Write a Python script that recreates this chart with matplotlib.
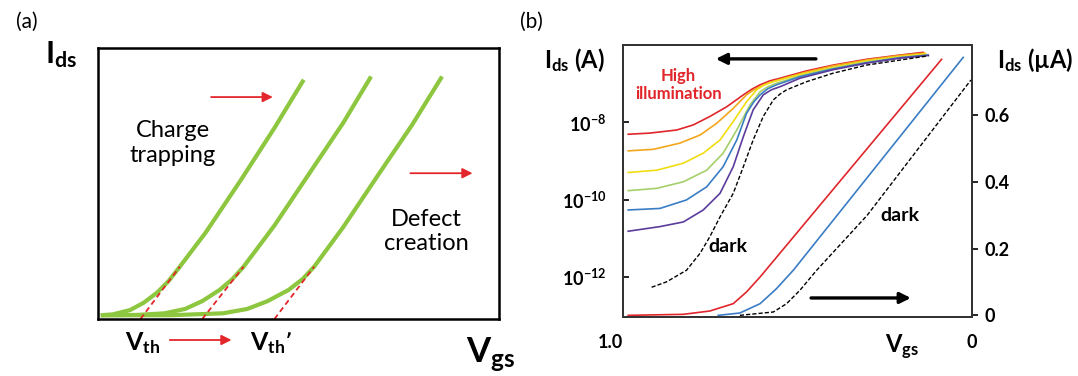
import numpy as np
import matplotlib.pyplot as plt

plt.rcParams['font.family'] = ['Lato', 'DejaVu Sans']
plt.rcParams['mathtext.default'] = 'regular'

GREEN = '#8dc63f'
RED = '#e3262b'

# ---- (a) schematic I-V curves, arbitrary units (0..100 on both axes)
c1_x = [0.7, 3.7, 8.0, 11.4, 14.8, 17.6, 20.4, 26.9, 35.5, 44.0, 51.3]
c1_y = [1.4, 1.7, 3.3, 6.0, 9.8, 14.0, 19.3, 32.0, 51.0, 70.5, 88.3]
c2_x = [0.7, 9.7, 16.6, 21.7, 26.0, 30.3, 33.5, 36.3, 44.0, 52.6, 61.2, 68.1]
c2_y = [1.4, 1.5, 2.1, 3.7, 6.6, 10.7, 14.7, 19.3, 34.5, 53.5, 72.5, 89.5]
c3_x = [0.7, 18.3, 31.2, 37.2, 42.3, 47.5, 51.0, 53.9, 61.2, 69.8, 78.4, 85.8]
c3_y = [1.4, 1.4, 2.1, 3.7, 6.6, 10.7, 14.7, 19.3, 34.0, 53.0, 71.8, 89.5]
tangent_x = [[10.6, 20.4], [26.0, 36.3], [44.0, 53.9]]
tangent_y = [0.0, 19.3]

# ---- (b) transfer curves under illumination, Vgs from 1.0 down to 0
red_v = [0.985, 0.923, 0.846, 0.799, 0.751, 0.703, 0.655, 0.630, 0.607, 0.580, 0.550, 0.474, 0.398, 0.302, 0.206, 0.140]
red_log = [-8.31, -8.28, -8.20, -8.07, -7.85, -7.60, -7.29, -7.14, -7.03, -6.93, -6.86, -6.67, -6.52, -6.37, -6.26, -6.19]
orange_v = [0.985, 0.913, 0.837, 0.779, 0.732, 0.684, 0.646, 0.625, 0.607, 0.580, 0.550, 0.474, 0.398, 0.302, 0.206, 0.135]
orange_log = [-8.74, -8.70, -8.54, -8.33, -8.03, -7.64, -7.29, -7.16, -7.08, -6.97, -6.89, -6.70, -6.54, -6.39, -6.27, -6.21]
yellow_v = [0.985, 0.903, 0.827, 0.770, 0.722, 0.684, 0.646, 0.617, 0.595, 0.569, 0.493, 0.398, 0.302, 0.206, 0.132]
yellow_log = [-9.30, -9.24, -9.06, -8.80, -8.46, -7.98, -7.47, -7.16, -7.03, -6.95, -6.76, -6.58, -6.41, -6.30, -6.23]
green_v = [0.985, 0.903, 0.827, 0.760, 0.713, 0.674, 0.636, 0.607, 0.585, 0.560, 0.493, 0.398, 0.302, 0.206, 0.130]
green_log = [-9.77, -9.71, -9.54, -9.24, -8.80, -8.20, -7.55, -7.21, -7.08, -6.99, -6.80, -6.60, -6.44, -6.32, -6.26]
blue_v = [0.985, 0.894, 0.818, 0.760, 0.713, 0.674, 0.646, 0.625, 0.607, 0.585, 0.560, 0.493, 0.398, 0.302, 0.206, 0.125]
blue_log = [-10.27, -10.23, -10.01, -9.67, -9.15, -8.46, -7.77, -7.47, -7.29, -7.13, -7.03, -6.82, -6.62, -6.46, -6.33, -6.26]
purple_v = [0.985, 0.894, 0.827, 0.770, 0.722, 0.684, 0.655, 0.627, 0.598, 0.575, 0.550, 0.493, 0.398, 0.302, 0.206, 0.125]
purple_log = [-10.82, -10.70, -10.58, -10.27, -9.84, -9.15, -8.37, -7.68, -7.29, -7.16, -7.08, -6.86, -6.64, -6.47, -6.34, -6.27]
dark_v = [0.918, 0.875, 0.818, 0.779, 0.751, 0.722, 0.684, 0.655, 0.627, 0.598, 0.569, 0.550, 0.531, 0.474, 0.398, 0.302, 0.206, 0.125]
dark_log = [-12.27, -12.13, -11.83, -11.39, -10.96, -10.45, -9.84, -9.15, -8.46, -7.85, -7.42, -7.27, -7.16, -6.95, -6.73, -6.52, -6.39, -6.28]

log_curves = [
    (red_v, red_log, '#e0262a'),
    (orange_v, orange_log, '#f2a71b'),
    (yellow_v, yellow_log, '#f2dc12'),
    (green_v, green_log, '#a5cf6a'),
    (blue_v, blue_log, '#3a7dc4'),
    (purple_v, purple_log, '#5b3c9c'),
]

# linear scale (right axis), current in uA
lin_red_v = [0.985, 0.827, 0.751, 0.684, 0.646, 0.607, 0.087]
lin_red_i = [0.0, 0.003, 0.013, 0.035, 0.070, 0.115, 0.767]
lin_blue_v = [0.727, 0.665, 0.607, 0.560, 0.512, 0.025]
lin_blue_i = [0.0, 0.007, 0.035, 0.080, 0.135, 0.773]
lin_dark_v = [0.665, 0.569, 0.531, 0.493, 0.445, 0.300, 0.003]
lin_dark_i = [0.0, 0.010, 0.035, 0.075, 0.135, 0.300, 0.705]

log_ticks = [1e-8, 1e-10, 1e-12]
log_ticklabels = ['10$^{-8}$', '10$^{-10}$', '10$^{-12}$']
lin_ticks = [0.0, 0.2, 0.4, 0.6]
lin_ticklabels = ['0', '0.2', '0.4', '0.6']

fig = plt.figure(figsize=(10.78, 3.76), dpi=100)

# ================= (a)
ax = fig.add_axes([0.0909, 0.1516, 0.3720, 0.7207])
ax.set_xlim(0, 100)
ax.set_ylim(0, 100)
ax.set_xticks([])
ax.set_yticks([])
for s in ax.spines.values():
    s.set_linewidth(1.8)
    s.set_color('black')

for xs, ys in [(c1_x, c1_y), (c2_x, c2_y), (c3_x, c3_y)]:
    ax.plot(xs, ys, color=GREEN, lw=3.0, solid_capstyle='butt', solid_joinstyle='round')
for tx in tangent_x:
    ax.plot(tx, tangent_y, color=RED, lw=1.3, dashes=(3, 2))

arrow_red = dict(arrowstyle='-|>', color=RED, lw=1.3, mutation_scale=15, shrinkA=0, shrinkB=0)
ax.annotate('', xy=(43.6, 81.9), xytext=(28.2, 81.9), arrowprops=arrow_red)
ax.annotate('', xy=(93.4, 53.8), xytext=(77.9, 53.8), arrowprops=arrow_red)
ax.annotate('', xy=(33.3, -7.75), xytext=(17.9, -7.75), arrowprops=arrow_red,
            annotation_clip=False)

ax.text(18.7, 64.9, 'Charge\ntrapping', ha='center', va='center', fontsize=17, linespacing=1.2)
ax.text(81.8, 32.3, 'Defect\ncreation', ha='center', va='center', fontsize=17, linespacing=1.2)
ax.text(6.7, -11.4, 'V$_{th}$', ha='left', va='baseline', fontsize=18, fontweight='bold', clip_on=False)
ax.text(38.0, -11.4, 'V$_{th}$\u2019', ha='left', va='baseline', fontsize=18, fontweight='bold', clip_on=False)
ax.text(91.7, -16.2, 'V$_{gs}$', ha='left', va='baseline', fontsize=25, fontweight='bold', clip_on=False)

fig.text(45 / 1078, 1 - 63 / 376, 'I$_{ds}$', ha='left', va='baseline', fontsize=22, fontweight='bold')
fig.text(27 / 1078, 1 - 22 / 376, '(a)', ha='center', va='center', fontsize=15)
fig.text(531 / 1078, 1 - 22 / 376, '(b)', ha='center', va='center', fontsize=15)

# ================= (b)
bx = fig.add_axes([0.5779, 0.1569, 0.3237, 0.7234])
bx.set_xlim(1.0, 0.0)
bx.set_yscale('log')
bx.set_ylim(10 ** -13.04, 10 ** -6.0)
for v, lg, col in log_curves:
    bx.plot(v, 10.0 ** np.array(lg), color=col, lw=1.2, solid_joinstyle='round')
bx.plot(dark_v, 10.0 ** np.array(dark_log), color='black', lw=1.0, dashes=(3, 1.5))

bx.set_yticks(log_ticks)
bx.set_yticklabels(log_ticklabels)
bx.yaxis.set_minor_locator(plt.NullLocator())
bx.tick_params(axis='y', direction='in', length=4, width=1.2, pad=12, labelsize=13)
for lab in bx.get_yticklabels():
    lab.set_fontweight('bold')

bx.set_xticks([1.0, 0.0])
bx.set_xticklabels(['1.0', '0'])
bx.tick_params(axis='x', length=0, pad=12, labelsize=13)
for lab in bx.get_xticklabels():
    lab.set_fontweight('bold')
bx.get_xticklabels()[0].set_horizontalalignment('right')

for s in bx.spines.values():
    s.set_linewidth(1.3)
    s.set_color('#333333')

tx = bx.twinx()
tx.set_ylim(-0.005, 0.81)
tx.plot(lin_red_v, lin_red_i, color='#e0262a', lw=1.2)
tx.plot(lin_blue_v, lin_blue_i, color='#3a7dc4', lw=1.2)
tx.plot(lin_dark_v, lin_dark_i, color='black', lw=1.0, dashes=(3, 1.5))
tx.set_yticks(lin_ticks)
tx.set_yticklabels(lin_ticklabels)
tx.tick_params(axis='y', direction='out', length=4, width=1.2, pad=5, labelsize=13)
for lab in tx.get_yticklabels():
    lab.set_fontweight('bold')
for s in tx.spines.values():
    s.set_linewidth(1.3)
    s.set_color('#333333')

arrow_blk = dict(arrowstyle='-|>', color='black', lw=2.4, mutation_scale=16, shrinkA=0, shrinkB=0)
bx.annotate('', xy=(0.266, 0.949), xytext=(0.553, 0.949), xycoords='axes fraction',
            arrowprops=arrow_blk)
bx.annotate('', xy=(0.825, 0.070), xytext=(0.539, 0.070), xycoords='axes fraction',
            arrowprops=arrow_blk)

bx.text(0.158, 0.853, 'High\nillumination', transform=bx.transAxes, ha='center', va='center',
        fontsize=12, fontweight='bold', color='#e0262a', linespacing=1.2)
bx.text(0.301, 0.261, 'dark', transform=bx.transAxes, ha='center', va='center',
        fontsize=14, fontweight='bold')
bx.text(0.794, 0.375, 'dark', transform=bx.transAxes, ha='center', va='center',
        fontsize=14, fontweight='bold')
bx.text(0.751, -0.132, 'V$_{gs}$', transform=bx.transAxes, ha='left', va='baseline',
        fontsize=17, fontweight='bold')

fig.text(544 / 1078, 1 - 68.3 / 376, 'I$_{ds}$ (A)', ha='left', va='baseline',
         fontsize=17, fontweight='bold')
fig.text(997 / 1078, 1 - 68.3 / 376, 'I$_{ds}$ (\u00b5A)', ha='left', va='baseline',
         fontsize=17, fontweight='bold')

fig.savefig('out.png', dpi=100)
